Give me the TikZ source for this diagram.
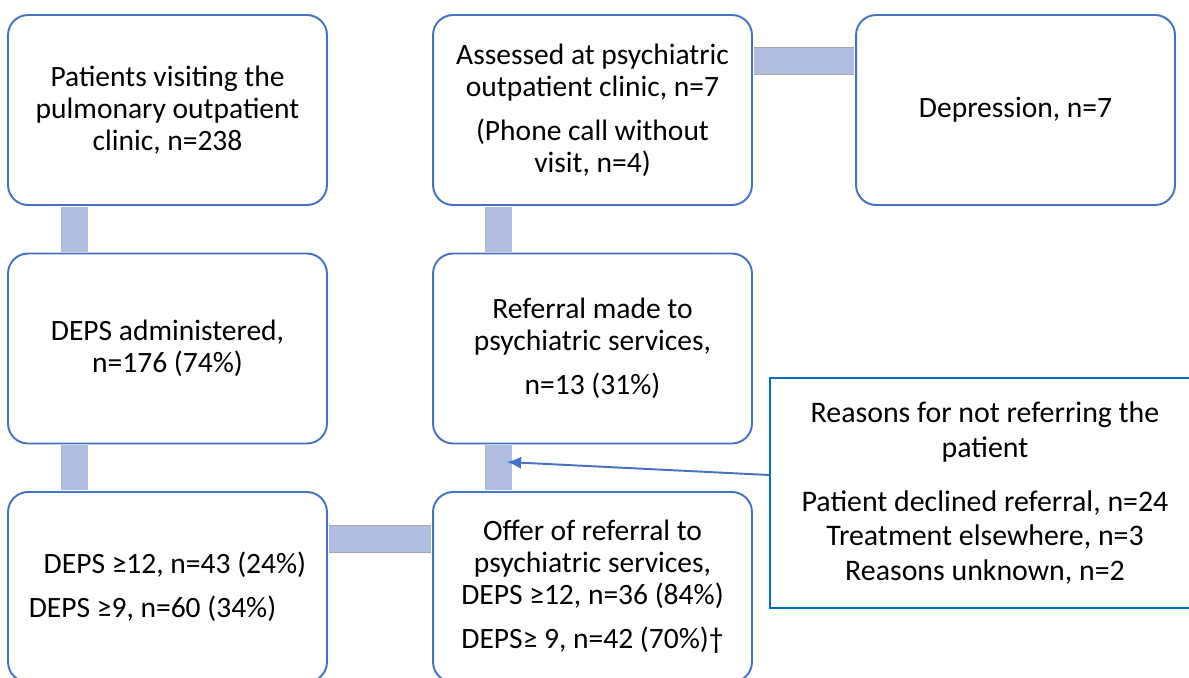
\documentclass[tikz,border=0pt]{standalone}
\usepackage{fontspec}
\setmainfont{Carlito}
\usetikzlibrary{arrows.meta}
\tikzset{>=latex}
\definecolor{boxblue}{HTML}{4472C4}
\definecolor{noteblue}{HTML}{0070C0}
\definecolor{barfill}{HTML}{B0BCE0}
\definecolor{bargrey}{HTML}{A8A8A8}
\tikzset{
    flowbox/.style={draw=boxblue, line width=1.1pt, rounded corners=0.4cm, fill=white,
        minimum width=6.38cm, minimum height=3.8cm, align=center, inner sep=0pt,
        font=\fontsize{16.8}{18.1}\selectfont},
    notebox/.style={draw=noteblue, line width=1.1pt, fill=white,
        minimum width=8.6cm, minimum height=4.6cm, align=center, inner sep=0pt,
        font=\fontsize{17}{19.8}\selectfont},
    bar/.style={draw=bargrey, line width=0.4pt, double=barfill, double distance=15pt,
        shorten <=0.55pt, shorten >=0.55pt},
}

\begin{document}
\begin{tikzpicture}[x=0.02cm, y=-0.02cm]
    \useasboundingbox (0, 0) rectangle (1189, 677);
    \node[flowbox] (visit) at (167.5, 110) {Patients visiting the\\pulmonary outpatient\\clinic, n=238};
    \node[flowbox] (assess) at (592.5, 110) {Assessed at psychiatric\\outpatient clinic, n=7\\[7pt](Phone call without\\visit, n=4)};
    \node[flowbox] (depr) at (1015.5, 110) {Depression, n=7};
    \node[flowbox] (admin) at (167.5, 348.5) {DEPS administered,\\n=176 (74\%)};
    \node[flowbox] (refer) at (592.5, 348.5) {Referral made to\\psychiatric services,\\[7pt]n=13 (31\%)};
    \node[flowbox, align=left] (score) at (167.5, 587) {\hspace{8.5pt}DEPS ≥12, n=43 (24\%)\\[7pt]DEPS ≥9, n=60 (34\%)};
    \node[flowbox] (offer) at (592.5, 587) {Offer of referral to\\psychiatric services,\\DEPS ≥12, n=36 (84\%)\\[7pt]DEPS≥ 9, n=42 (70\%)†};
    \node[notebox] (reasons) at (985, 493) {Reasons for not referring the\\patient\\[11pt]Patient declined referral, n=24\\Treatment elsewhere, n=3\\Reasons unknown, n=2};
    % links
    \draw[bar] ([xshift=-1.86cm]visit.south) -- ([xshift=-1.86cm]admin.north);
    \draw[bar] ([xshift=-1.86cm]admin.south) -- ([xshift=-1.86cm]score.north);
    \draw[bar] ([xshift=-1.88cm]assess.south) -- ([xshift=-1.88cm]refer.north);
    \draw[bar] ([xshift=-1.88cm]refer.south) -- ([xshift=-1.88cm]offer.north);
    \draw[bar] ([yshift=0.98cm]assess.east) -- ([yshift=0.98cm]depr.west);
    \draw[bar] ([yshift=0.96cm]score.east) -- ([yshift=0.96cm]offer.west);
    \coordinate (tip) at (507, 462);
    \draw[-{Latex[length=8pt, width=7pt]}, boxblue, line width=1.1pt] ([yshift=0.36cm]reasons.west) -- (tip);
\end{tikzpicture}
\end{document}
